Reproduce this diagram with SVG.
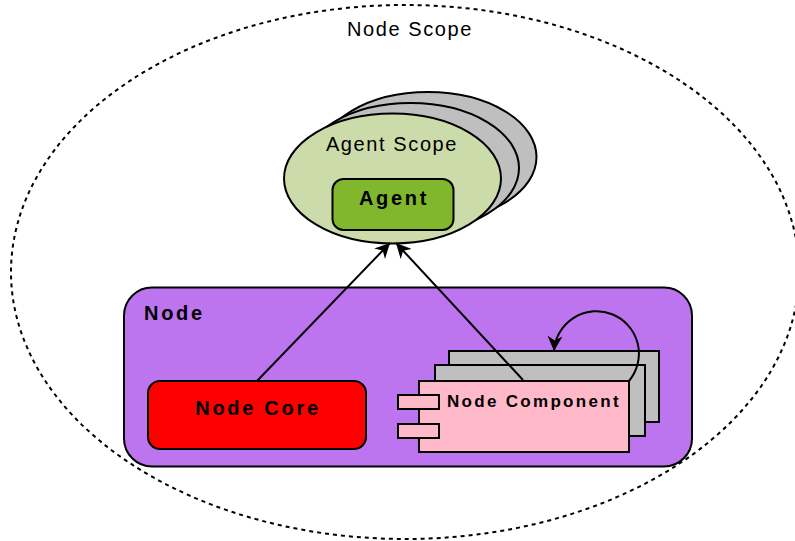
<svg xmlns="http://www.w3.org/2000/svg" width="795" height="541" viewBox="0 0 795 541">
<defs>
<style>
.s{stroke:#000;stroke-width:2}
.g{fill:#bfbfbf}
.p{fill:#ffb9c9}
text{font-family:"Liberation Sans",Arial,sans-serif;fill:#000}
.b{font-weight:bold;font-size:20px;letter-spacing:2.700px}
.n{font-size:20px;letter-spacing:1.600px}
.c{stroke:#000;stroke-width:2;fill:none}
</style>
<marker id="a" markerUnits="userSpaceOnUse" markerWidth="16" markerHeight="16" refX="15" refY="7.500" orient="auto" viewBox="0 0 16 15"><path d="M0 0L15 7.500L0 15L4.500 7.500Z" fill="#000"/></marker>
</defs>
<rect width="795" height="541" fill="#fff"/>
<g id="node-scope">
<ellipse cx="405" cy="272" rx="394" ry="267" fill="none" stroke="#000" stroke-width="2" stroke-dasharray="4 4"/>
<text class="n" x="410" y="36" text-anchor="middle">Node Scope</text>
</g>
<g id="agent-scope">
<ellipse class="s g" cx="428" cy="157" rx="108.500" ry="65"/>
<ellipse class="s g" cx="410.500" cy="168" rx="108.500" ry="65"/>
<ellipse class="s" fill="#cbdba9" cx="392.500" cy="178.500" rx="108.500" ry="65"/>
<text class="n" x="392" y="151" text-anchor="middle">Agent Scope</text>
</g>
<g id="agent">
<rect class="s" x="332.500" y="179" width="121" height="51" rx="11" fill="#80b72c"/>
<text class="b" x="394" y="205" text-anchor="middle">Agent</text>
</g>
<g id="node">
<rect class="s" x="124" y="287.500" width="568" height="179" rx="28" fill="#bc75ee"/>
<text class="b" x="144" y="320">Node</text>
</g>
<g id="node-core">
<rect class="s" x="148" y="381" width="218" height="68" rx="12" fill="#f00"/>
<text class="b" x="258" y="415" text-anchor="middle">Node Core</text>
</g>
<g id="node-component">
<rect class="s g" x="449" y="351" width="210" height="71"/>
<rect class="s g" x="435" y="365" width="210" height="71"/>
<rect class="s p" x="419" y="381" width="210" height="71"/>
<rect class="s p" x="398" y="395" width="41" height="14"/>
<rect class="s p" x="398" y="424" width="41" height="14"/>
<text class="b" x="447" y="407" style="font-size:17px;letter-spacing:2.300px">Node Component</text>
</g>
<g id="connectors">
<path class="c" marker-end="url(#a)" d="M257 381L390 243"/>
<path class="c" marker-end="url(#a)" d="M523 380L396 243"/>
<path class="c" marker-end="url(#a)" d="M629 381A42.500 42.500 0 1 0 554 351"/>
</g>
</svg>
